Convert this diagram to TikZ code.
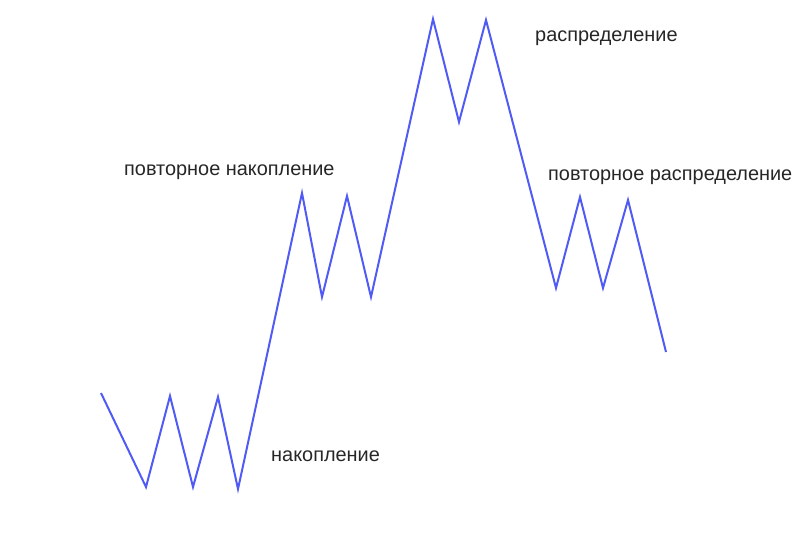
\documentclass[tikz,border=0pt]{standalone}
\usepackage{fontspec}
\setmainfont{Liberation Sans}
\definecolor{waveblue}{RGB}{80,90,245}
\tikzstyle{wave} = [draw=waveblue, line width=2pt, line join=miter]
\tikzstyle{phase} = [font=\fontsize{19.9}{23}\selectfont, text=black!85, inner sep=0pt, anchor=base west]
\begin{document}
\begin{tikzpicture}[x=1pt, y=-1pt]
\useasboundingbox (0,0) rectangle (808,558);
\coordinate (p0) at (101,393);
\coordinate (p1) at (146,487);
\coordinate (p2) at (170,396);
\coordinate (p3) at (193,487);
\coordinate (p4) at (218,397);
\coordinate (p5) at (238,489);
\coordinate (p6) at (302,193);
\coordinate (p7) at (322,297);
\coordinate (p8) at (347,196);
\coordinate (p9) at (371,297);
\coordinate (p10) at (433,19);
\coordinate (p11) at (459,122);
\coordinate (p12) at (486,20);
\coordinate (p13) at (556,288);
\coordinate (p14) at (580,197);
\coordinate (p15) at (603,288);
\coordinate (p16) at (628,200);
\coordinate (p17) at (666,352);
\draw [wave] (p0) -- (p1) -- (p2) -- (p3) -- (p4) -- (p5) -- (p6) -- (p7) -- (p8)
  -- (p9) -- (p10) -- (p11) -- (p12) -- (p13) -- (p14) -- (p15) -- (p16) -- (p17);
\node (accum) [phase] at (271,461) {накопление};
\node (reaccum) [phase] at (124,175) {повторное накопление};
\node (distrib) [phase] at (535,41) {распределение};
\node (redistrib) [phase] at (548,180) {повторное распределение};
\end{tikzpicture}
\end{document}
